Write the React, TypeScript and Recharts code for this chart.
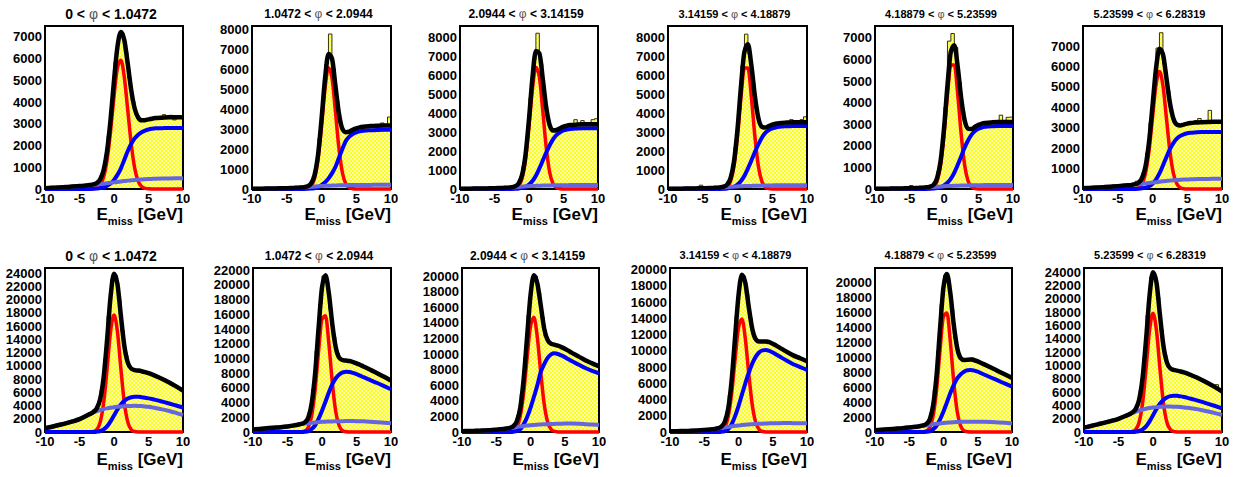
import React from 'react';
import { ComposedChart, Area, Line, XAxis, YAxis, ReferenceArea } from 'recharts';

const FONT = "'Liberation Sans', Arial, Helvetica, sans-serif";

// x grid of the fitted curves (GeV)
const CURVE_X = [-10, -9, -8, -7, -6, -5, -4, -3.5, -3, -2.5, -2, -1.5, -1, -0.5, 0, 0.5, 1, 1.5, 2, 2.5, 3, 3.5, 4, 4.5, 5, 5.5, 6, 7, 8, 9, 10];
// histogram bin edges (GeV), 40 bins
const HIST_EDGES = [-10, -9.5, -9, -8.5, -8, -7.5, -7, -6.5, -6, -5.5, -5, -4.5, -4, -3.5, -3, -2.5, -2, -1.5, -1, -0.5, 0, 0.5, 1, 1.5, 2, 2.5, 3, 3.5, 4, 4.5, 5, 5.5, 6, 6.5, 7, 7.5, 8, 8.5, 9, 9.5, 10];

const X_TICKS = [-10, -5, 0, 5, 10];
const Y_TICKS_7K = [0, 1000, 2000, 3000, 4000, 5000, 6000, 7000];
const Y_TICKS_8K = [0, 1000, 2000, 3000, 4000, 5000, 6000, 7000, 8000];
const Y_TICKS_20K = [0, 2000, 4000, 6000, 8000, 10000, 12000, 14000, 16000, 18000, 20000];
const Y_TICKS_22K = [0, 2000, 4000, 6000, 8000, 10000, 12000, 14000, 16000, 18000, 20000, 22000];
const Y_TICKS_24K = [0, 2000, 4000, 6000, 8000, 10000, 12000, 14000, 16000, 18000, 20000, 22000, 24000];

const PHI_LOW = ['0', '1.0472', '2.0944', '3.14159', '4.18879', '5.23599'];
const PHI_HIGH = ['1.0472', '2.0944', '3.14159', '4.18879', '5.23599', '6.28319'];

// ---------- top row ----------
const T1_SIG = [0, 0, 0, 0, 0, 0, 0, 2, 11, 50, 184, 551, 1340, 2647, 4256, 5570, 5926, 5128, 3609, 2065, 961, 364, 112, 28, 6, 1, 0, 0, 0, 0, 0];
const T1_BG = [0, 0, 0, 0, 0, 0, 0, 5, 10, 20, 40, 80, 150, 250, 420, 650, 950, 1350, 1750, 2080, 2330, 2500, 2610, 2690, 2740, 2770, 2790, 2800, 2810, 2810, 2810];
const T1_BG2 = [40, 55, 70, 90, 110, 135, 160, 175, 190, 205, 225, 245, 265, 285, 305, 325, 345, 365, 385, 400, 415, 428, 440, 450, 458, 465, 472, 482, 488, 492, 495];
const T1_TOT = [40, 55, 70, 90, 110, 135, 160, 182, 211, 275, 449, 876, 1755, 3182, 4981, 6545, 7221, 6843, 5744, 4545, 3706, 3292, 3162, 3168, 3204, 3236, 3262, 3282, 3298, 3302, 3305];
const T1_HIST = [45, 50, 60, 70, 80, 85, 100, 105, 120, 130, 150, 155, 175, 190, 240, 350, 640, 1280, 2450, 4100, 5850, 7050, 7150, 6300, 5100, 4050, 3450, 3200, 3120, 3180, 3220, 3250, 3230, 3300, 3420, 3280, 3390, 3180, 3310, 3330];

const T2_SIG = [0, 0, 0, 0, 0, 0, 0, 0, 0, 4, 30, 144, 530, 1478, 3123, 4998, 6066, 5582, 3894, 2060, 826, 251, 58, 10, 1, 0, 0, 0, 0, 0, 0];
const T2_BG = [0, 0, 0, 0, 0, 0, 0, 0, 0, 5, 10, 20, 40, 80, 200, 330, 520, 780, 1100, 1550, 2000, 2400, 2620, 2750, 2830, 2880, 2910, 2940, 2955, 2960, 2960];
const T2_BG2 = [10, 15, 20, 25, 32, 40, 55, 62, 70, 82, 95, 110, 125, 140, 150, 160, 165, 170, 178, 183, 188, 192, 195, 198, 200, 202, 204, 206, 208, 209, 210];
const T2_TOT = [10, 15, 20, 25, 32, 40, 55, 62, 70, 91, 135, 274, 695, 1698, 3473, 5488, 6751, 6532, 5172, 3793, 3014, 2843, 2873, 2958, 3031, 3082, 3114, 3146, 3163, 3169, 3170];
const T2_HIST = [12, 15, 18, 22, 25, 28, 30, 35, 38, 45, 50, 60, 65, 75, 85, 110, 190, 440, 1150, 2550, 4500, 6250, 7750, 6000, 4400, 3300, 2850, 2780, 2800, 2980, 3050, 3080, 3120, 3150, 3130, 3180, 3150, 3300, 3180, 3600];

const T3_SIG = [0, 0, 0, 0, 0, 0, 0, 0, 0, 5, 32, 152, 560, 1558, 3297, 5274, 6405, 5893, 4109, 2177, 869, 264, 61, 11, 1, 0, 0, 0, 0, 0, 0];
const T3_BG = [0, 0, 0, 0, 0, 0, 0, 0, 0, 5, 15, 30, 60, 120, 230, 420, 700, 1080, 1500, 1920, 2300, 2620, 2850, 2990, 3080, 3130, 3160, 3185, 3195, 3200, 3200];
const T3_BG2 = [10, 15, 20, 25, 32, 40, 55, 62, 70, 82, 95, 110, 125, 140, 150, 160, 165, 170, 178, 183, 188, 192, 195, 198, 200, 202, 204, 206, 208, 209, 210];
const T3_TOT = [10, 15, 20, 25, 32, 40, 55, 62, 70, 92, 142, 292, 745, 1818, 3677, 5854, 7270, 7143, 5787, 4280, 3357, 3076, 3106, 3199, 3281, 3332, 3364, 3391, 3403, 3409, 3410];
const T3_HIST = [12, 15, 18, 22, 25, 28, 30, 35, 38, 45, 50, 60, 65, 75, 90, 120, 200, 480, 1200, 2700, 4800, 6800, 8200, 6600, 4950, 3700, 3180, 3080, 3150, 3230, 3300, 3350, 3380, 3650, 3400, 3600, 3420, 3350, 3650, 3700];

const T4_SIG = [0, 0, 0, 0, 0, 0, 0, 0, 0, 3, 19, 100, 399, 1210, 2776, 4831, 6375, 6375, 4831, 2776, 1210, 399, 100, 19, 3, 0, 0, 0, 0, 0, 0];
const T4_BG = [0, 0, 0, 0, 0, 0, 0, 0, 0, 5, 15, 30, 60, 120, 230, 420, 700, 1080, 1500, 1950, 2350, 2700, 2950, 3100, 3190, 3240, 3270, 3300, 3315, 3320, 3320];
const T4_BG2 = [10, 14, 18, 23, 30, 38, 50, 58, 66, 76, 88, 100, 112, 125, 135, 145, 152, 158, 164, 170, 175, 180, 184, 187, 190, 192, 194, 197, 199, 200, 200];
const T4_TOT = [10, 14, 18, 23, 30, 38, 50, 58, 66, 84, 122, 230, 571, 1455, 3141, 5396, 7227, 7613, 6495, 4896, 3735, 3279, 3234, 3306, 3383, 3432, 3464, 3497, 3514, 3520, 3520];
const T4_HIST = [10, 12, 15, 18, 20, 24, 27, 30, 35, 200, 45, 55, 60, 70, 80, 100, 170, 380, 950, 2200, 4200, 6500, 8150, 7100, 5600, 4250, 3450, 3230, 3250, 3350, 3400, 3450, 3480, 3500, 3480, 3650, 3600, 3520, 3650, 3800];

const T5_SIG = [0, 0, 0, 0, 0, 0, 0, 0, 0, 3, 17, 90, 360, 1089, 2505, 4355, 5748, 5748, 4355, 2505, 1089, 360, 90, 17, 3, 0, 0, 0, 0, 0, 0];
const T5_BG = [0, 0, 0, 0, 0, 0, 0, 0, 0, 5, 10, 20, 40, 80, 160, 290, 480, 760, 1120, 1520, 1920, 2260, 2520, 2690, 2790, 2850, 2880, 2905, 2915, 2920, 2920];
const T5_BG2 = [9, 13, 17, 21, 28, 35, 46, 54, 61, 71, 82, 93, 104, 116, 126, 135, 141, 147, 153, 158, 163, 167, 171, 174, 177, 179, 180, 183, 185, 186, 186];
const T5_TOT = [9, 13, 17, 21, 28, 35, 46, 54, 61, 79, 109, 203, 504, 1285, 2791, 4780, 6369, 6655, 5628, 4183, 3172, 2787, 2781, 2881, 2970, 3029, 3060, 3088, 3100, 3106, 3106];
const T5_HIST = [9, 12, 15, 18, 20, 23, 26, 30, 33, 38, 160, 48, 55, 62, 72, 90, 150, 330, 850, 1950, 3800, 6850, 7200, 6550, 4950, 3600, 2900, 2750, 2830, 2920, 3000, 3040, 3070, 3090, 3080, 3110, 3420, 3100, 3320, 3330];

const T6_SIG = [0, 0, 0, 0, 0, 0, 0, 0, 2, 13, 64, 252, 778, 1867, 3487, 5074, 5750, 5074, 3487, 1867, 778, 252, 64, 13, 2, 0, 0, 0, 0, 0, 0];
const T6_BG = [0, 0, 0, 0, 0, 0, 0, 0, 0, 5, 15, 35, 70, 140, 260, 460, 760, 1150, 1560, 1950, 2250, 2470, 2600, 2680, 2730, 2755, 2770, 2785, 2790, 2790, 2790];
const T6_BG2 = [40, 55, 72, 92, 115, 140, 168, 183, 200, 218, 236, 255, 275, 295, 315, 335, 355, 375, 393, 410, 425, 438, 450, 460, 468, 475, 480, 488, 494, 498, 500];
const T6_TOT = [40, 55, 72, 92, 115, 140, 168, 183, 202, 236, 315, 542, 1123, 2302, 4062, 5869, 6865, 6599, 5440, 4227, 3453, 3160, 3114, 3153, 3200, 3230, 3250, 3273, 3284, 3288, 3290];
const T6_HIST = [45, 55, 65, 75, 85, 95, 105, 115, 130, 140, 155, 165, 175, 190, 215, 380, 420, 820, 1750, 3250, 5000, 6900, 7650, 6100, 4800, 3800, 3250, 3150, 3120, 3180, 3250, 3230, 3350, 3450, 3300, 3280, 3850, 3300, 3290, 3350];

// ---------- bottom row ----------
const B1_SIG = [0, 0, 0, 0, 0, 0, 0, 9, 68, 373, 1494, 4397, 9519, 15135, 17660, 15135, 9519, 4397, 1494, 373, 68, 9, 0, 0, 0, 0, 0, 0, 0, 0, 0];
const B1_BG = [0, 0, 0, 0, 0, 0, 0, 0, 10, 50, 150, 400, 850, 1600, 2500, 3400, 4150, 4700, 5050, 5250, 5330, 5320, 5260, 5180, 5080, 4970, 4850, 4580, 4300, 4000, 3700];
const B1_BG2 = [560, 800, 1050, 1300, 1600, 1950, 2450, 2700, 2950, 3150, 3320, 3460, 3570, 3660, 3740, 3800, 3850, 3890, 3920, 3940, 3950, 3940, 3910, 3860, 3800, 3720, 3630, 3420, 3170, 2880, 2550];
const B1_TOT = [560, 800, 1050, 1300, 1600, 1950, 2450, 2709, 3028, 3573, 4964, 8257, 13939, 20395, 23900, 22335, 17519, 12987, 10464, 9563, 9348, 9269, 9170, 9040, 8880, 8690, 8480, 8000, 7470, 6880, 6250];
const B1_HIST = [620, 720, 900, 1000, 1150, 1250, 1400, 1530, 1700, 1850, 2050, 2300, 2600, 2850, 3250, 4100, 6300, 11000, 17500, 23000, 23600, 20000, 15200, 11600, 10000, 9500, 9300, 9250, 9000, 9000, 8750, 8600, 8400, 8200, 7850, 7650, 7300, 7100, 6700, 6350];

const B2_SIG = [0, 0, 0, 0, 0, 0, 0, 2, 19, 128, 619, 2192, 5706, 10910, 15320, 15800, 11970, 6660, 2720, 816, 179, 30, 4, 0, 0, 0, 0, 0, 0, 0, 0];
const B2_BG = [0, 0, 0, 0, 0, 0, 0, 0, 10, 40, 100, 400, 900, 1800, 2900, 4100, 5400, 6500, 7300, 7800, 8100, 8190, 8150, 8020, 7850, 7660, 7450, 7050, 6650, 6230, 5800];
const B2_BG2 = [350, 420, 500, 580, 650, 750, 900, 990, 1080, 1140, 1200, 1250, 1300, 1340, 1380, 1400, 1420, 1440, 1450, 1465, 1475, 1480, 1480, 1480, 1475, 1465, 1450, 1400, 1340, 1270, 1200];
const B2_TOT = [350, 420, 500, 580, 650, 750, 900, 992, 1109, 1308, 1919, 3842, 7906, 14050, 19600, 21300, 18790, 14600, 11470, 10081, 9754, 9700, 9634, 9500, 9325, 9125, 8900, 8450, 7990, 7500, 7000];
const B2_HIST = [380, 450, 480, 520, 560, 600, 640, 680, 720, 760, 850, 900, 960, 1050, 1200, 1550, 2700, 5800, 11000, 17300, 21200, 20300, 16600, 12900, 10700, 9950, 9700, 9700, 9600, 9350, 9400, 9000, 8750, 8600, 8300, 8150, 7750, 7650, 7300, 6950];

const B3_SIG = [0, 0, 0, 0, 0, 0, 0, 3, 25, 140, 607, 2000, 4990, 9430, 13525, 14700, 12105, 7563, 3578, 1284, 349, 72, 11, 1, 0, 0, 0, 0, 0, 0, 0];
const B3_BG = [0, 0, 0, 0, 0, 0, 0, 0, 10, 40, 120, 350, 1000, 1900, 3100, 4500, 6000, 7700, 8700, 9500, 9950, 10090, 10000, 9820, 9600, 9350, 9100, 8650, 8200, 7850, 7530];
const B3_BG2 = [100, 125, 150, 185, 220, 290, 380, 440, 500, 575, 650, 715, 780, 830, 870, 905, 935, 960, 985, 1005, 1025, 1040, 1055, 1070, 1080, 1080, 1075, 1050, 1005, 955, 900];
const B3_TOT = [100, 125, 150, 185, 220, 290, 380, 443, 535, 755, 1377, 3065, 6770, 12160, 17495, 20105, 19040, 16223, 13263, 11789, 11324, 11202, 11066, 10891, 10680, 10430, 10175, 9700, 9205, 8805, 8430];
const B3_HIST = [110, 130, 140, 160, 170, 190, 200, 230, 250, 280, 310, 360, 410, 480, 620, 1000, 2100, 4800, 9500, 15000, 19300, 20000, 17800, 14700, 12300, 11500, 11300, 11100, 11000, 10900, 10500, 10300, 10100, 9900, 9500, 9400, 9050, 8800, 8600, 8500];

const B4_SIG = [0, 0, 0, 0, 0, 0, 0, 3, 24, 133, 575, 1894, 4726, 8932, 12810, 13923, 11466, 7164, 3389, 1216, 331, 68, 10, 1, 0, 0, 0, 0, 0, 0, 0];
const B4_BG = [0, 0, 0, 0, 0, 0, 0, 0, 10, 40, 120, 350, 950, 1950, 3200, 4600, 6000, 7300, 8400, 9250, 9800, 10050, 10100, 10000, 9800, 9550, 9300, 8800, 8350, 8000, 7650];
const B4_BG2 = [80, 100, 120, 145, 180, 240, 320, 370, 430, 500, 570, 640, 700, 760, 810, 850, 890, 925, 955, 985, 1010, 1030, 1050, 1065, 1075, 1085, 1090, 1095, 1090, 1080, 1070];
const B4_TOT = [80, 100, 120, 145, 180, 240, 320, 373, 464, 673, 1265, 2884, 6376, 11642, 16820, 19373, 18356, 15389, 12744, 11451, 11141, 11148, 11160, 11066, 10875, 10635, 10390, 9895, 9440, 9080, 8720];
const B4_HIST = [90, 100, 115, 125, 140, 150, 170, 190, 210, 230, 270, 300, 350, 410, 540, 880, 1900, 4500, 8900, 14300, 18600, 19200, 17000, 14000, 12000, 11350, 11100, 11150, 11300, 10950, 10700, 10600, 10300, 10150, 9700, 9600, 9350, 9350, 9000, 8700];

const B5_SIG = [0, 0, 0, 0, 0, 0, 0, 2, 19, 129, 623, 2205, 5740, 10975, 15410, 15895, 12040, 6700, 2736, 821, 180, 30, 4, 0, 0, 0, 0, 0, 0, 0, 0];
const B5_BG = [0, 0, 0, 0, 0, 0, 0, 0, 10, 40, 100, 380, 850, 1700, 2750, 3950, 5200, 6300, 7150, 7700, 8050, 8250, 8280, 8200, 8050, 7850, 7650, 7250, 6850, 6450, 6050];
const B5_BG2 = [250, 300, 360, 430, 500, 590, 700, 770, 840, 910, 980, 1040, 1100, 1150, 1200, 1240, 1280, 1310, 1335, 1355, 1370, 1380, 1385, 1385, 1380, 1370, 1355, 1320, 1270, 1220, 1160];
const B5_TOT = [250, 300, 360, 430, 500, 590, 700, 772, 869, 1079, 1703, 3625, 7690, 13825, 19360, 21085, 18520, 14310, 11221, 9876, 9600, 9660, 9669, 9585, 9430, 9220, 9005, 8570, 8120, 7670, 7210];
const B5_HIST = [270, 320, 350, 390, 420, 460, 490, 530, 560, 620, 660, 720, 760, 850, 980, 1350, 2550, 5600, 10800, 17000, 20900, 20000, 16400, 12500, 10500, 9800, 9550, 9700, 9900, 9500, 9300, 9200, 8900, 8750, 8500, 8300, 8000, 7900, 7450, 7250];

const B6_SIG = [0, 0, 0, 0, 0, 0, 0, 9, 69, 376, 1506, 4432, 9594, 15255, 17800, 15255, 9594, 4432, 1506, 376, 69, 9, 0, 0, 0, 0, 0, 0, 0, 0, 0];
const B6_BG = [0, 0, 0, 0, 0, 0, 0, 0, 10, 50, 150, 400, 850, 1600, 2500, 3450, 4250, 4800, 5180, 5380, 5440, 5420, 5340, 5240, 5120, 4990, 4850, 4550, 4230, 3900, 3550];
const B6_BG2 = [650, 900, 1150, 1400, 1680, 1980, 2400, 2620, 2850, 3050, 3220, 3370, 3490, 3590, 3670, 3730, 3770, 3800, 3810, 3810, 3800, 3780, 3740, 3690, 3630, 3560, 3480, 3300, 3080, 2830, 2550];
const B6_TOT = [650, 900, 1150, 1400, 1680, 1980, 2400, 2629, 2929, 3476, 4876, 8202, 13934, 20445, 23970, 22435, 17614, 13032, 10496, 9566, 9309, 9209, 9080, 8930, 8750, 8550, 8330, 7850, 7310, 6730, 6100];
const B6_HIST = [720, 850, 1000, 1100, 1250, 1350, 1500, 1600, 1800, 1900, 2150, 2300, 2500, 2800, 3200, 4000, 6200, 11000, 17500, 23200, 23500, 20200, 15300, 11500, 9900, 9400, 9200, 9200, 9000, 8800, 8700, 8300, 8350, 8000, 7700, 7500, 7200, 7000, 7100, 6300];

// ---------- layout (page pixels) ----------
const ROW_TOP = [0, 238];
const ROW_FRAME = [[26, 189], [268, 432]];
const ROW_TITLE_Y = [14, 255.5];
const ROW_LABEL_BASE = [220, 465];
const TITLE_SIZES = [14, 12, 12, 11, 11, 11];
const TOP_FRAMES_X = [[45, 183], [252, 391], [460, 598], [668, 807], [875, 1013], [1083, 1222]];
const BOT_FRAMES_X = [[45, 183], [253, 391], [462, 599], [670, 807], [875, 1012], [1084, 1222]];

type Panel = {
  row: number; col: number; yMax: number; yTicks: number[];
  sig: number[]; bg: number[]; bg2: number[]; tot: number[]; hist: number[];
};

const PANELS: Panel[] = [
  { row: 0, col: 0, yMax: 7500, yTicks: Y_TICKS_7K, sig: T1_SIG, bg: T1_BG, bg2: T1_BG2, tot: T1_TOT, hist: T1_HIST },
  { row: 0, col: 1, yMax: 8150, yTicks: Y_TICKS_8K, sig: T2_SIG, bg: T2_BG, bg2: T2_BG2, tot: T2_TOT, hist: T2_HIST },
  { row: 0, col: 2, yMax: 8580, yTicks: Y_TICKS_8K, sig: T3_SIG, bg: T3_BG, bg2: T3_BG2, tot: T3_TOT, hist: T3_HIST },
  { row: 0, col: 3, yMax: 8580, yTicks: Y_TICKS_8K, sig: T4_SIG, bg: T4_BG, bg2: T4_BG2, tot: T4_TOT, hist: T4_HIST },
  { row: 0, col: 4, yMax: 7550, yTicks: Y_TICKS_7K, sig: T5_SIG, bg: T5_BG, bg2: T5_BG2, tot: T5_TOT, hist: T5_HIST },
  { row: 0, col: 5, yMax: 7980, yTicks: Y_TICKS_7K, sig: T6_SIG, bg: T6_BG, bg2: T6_BG2, tot: T6_TOT, hist: T6_HIST },
  { row: 1, col: 0, yMax: 24750, yTicks: Y_TICKS_24K, sig: B1_SIG, bg: B1_BG, bg2: B1_BG2, tot: B1_TOT, hist: B1_HIST },
  { row: 1, col: 1, yMax: 22270, yTicks: Y_TICKS_22K, sig: B2_SIG, bg: B2_BG, bg2: B2_BG2, tot: B2_TOT, hist: B2_HIST },
  { row: 1, col: 2, yMax: 21030, yTicks: Y_TICKS_20K, sig: B3_SIG, bg: B3_BG, bg2: B3_BG2, tot: B3_TOT, hist: B3_HIST },
  { row: 1, col: 3, yMax: 20200, yTicks: Y_TICKS_20K, sig: B4_SIG, bg: B4_BG, bg2: B4_BG2, tot: B4_TOT, hist: B4_HIST },
  { row: 1, col: 4, yMax: 21900, yTicks: Y_TICKS_20K, sig: B5_SIG, bg: B5_BG, bg2: B5_BG2, tot: B5_TOT, hist: B5_HIST },
  { row: 1, col: 5, yMax: 24600, yTicks: Y_TICKS_24K, sig: B6_SIG, bg: B6_BG, bg2: B6_BG2, tot: B6_TOT, hist: B6_HIST },
];

function buildRows(p: Panel) {
  return HIST_EDGES.map((x, i) => {
    const row: any = { x, h: p.hist[Math.min(i, p.hist.length - 1)] };
    const j = CURVE_X.indexOf(x);
    if (j >= 0) {
      row.sig = p.sig[j];
      row.bg = p.bg[j];
      row.bg2 = p.bg2[j];
      row.tot = p.tot[j];
    }
    return row;
  });
}

const TICK_STYLE = { fontSize: 13, fontWeight: 700, fill: '#000', fontFamily: FONT };
const YAXIS_W = 50;
const RIGHT_PAD = 10;
const XAXIS_H = 30;

function PanelChart({ p, idx }: { p: Panel; idx: number }) {
  const rowTop = ROW_TOP[p.row];
  const [ft, fb] = ROW_FRAME[p.row];
  const [fl, fr] = (p.row === 0 ? TOP_FRAMES_X : BOT_FRAMES_X)[p.col];
  const w = fr - fl + YAXIS_W + RIGHT_PAD;
  const h = 238;
  const rows = buildRows(p);
  const pid = `hatch-${idx}`;
  const ts = TITLE_SIZES[p.col];
  const cx = (fl + fr) / 2 - 3;
  const labelSize = 17;
  return (
    <>
      <div style={{ position: 'absolute', left: fl - YAXIS_W, top: rowTop, width: w, height: h }}>
        <ComposedChart
          width={w}
          height={h}
          data={rows}
          margin={{ top: ft - rowTop, right: RIGHT_PAD, left: 0, bottom: rowTop + h - fb - XAXIS_H }}
        >
          <defs>
            <pattern id={pid} patternUnits="userSpaceOnUse" x="0" y="0" width="4" height="4">
              <rect x="0" y="0" width="4" height="4" fill="#f6f6b8" />
              <rect x="0" y="0" width="2" height="2" fill="#ffff10" />
              <rect x="2" y="2" width="2" height="2" fill="#ffff10" />
            </pattern>
          </defs>
          <XAxis
            dataKey="x"
            type="number"
            domain={[-10, 10]}
            ticks={X_TICKS}
            interval={0}
            tickLine={false}
            axisLine={false}
            tickSize={0}
            tickMargin={5}
            height={XAXIS_H}
            tick={TICK_STYLE}
          />
          <YAxis
            type="number"
            domain={[0, p.yMax]}
            ticks={p.yTicks}
            interval={0}
            width={YAXIS_W}
            tickLine={false}
            axisLine={false}
            tickSize={0}
            tickMargin={3}
            tick={TICK_STYLE}
          />
          <Area
            type="stepAfter"
            dataKey="h"
            stroke="#333300"
            strokeWidth={1}
            fill={`url(#${pid})`}
            fillOpacity={1}
            dot={false}
            activeDot={false}
            isAnimationActive={false}
          />
          <Line type="monotone" dataKey="sig" stroke="#ff0000" strokeWidth={3.5} dot={false} activeDot={false} connectNulls isAnimationActive={false} />
          <Line type="monotone" dataKey="bg" stroke="#0000ff" strokeWidth={4} dot={false} activeDot={false} connectNulls isAnimationActive={false} />
          <Line type="monotone" dataKey="bg2" stroke="#6666dd" strokeWidth={4} dot={false} activeDot={false} connectNulls isAnimationActive={false} />
          <Line type="monotone" dataKey="tot" stroke="#000000" strokeWidth={4.5} dot={false} activeDot={false} connectNulls isAnimationActive={false} />
          <ReferenceArea x1={-10} x2={10} y1={0} y2={p.yMax} fill="none" fillOpacity={0} stroke="#000" strokeWidth={2} />
        </ComposedChart>
      </div>
      <div
        style={{
          position: 'absolute',
          left: cx - 110,
          width: 220,
          top: ROW_TITLE_Y[p.row] - 0.49 * ts,
          fontSize: ts,
          lineHeight: `${ts}px`,
          fontWeight: 700,
          textAlign: 'center',
          whiteSpace: 'nowrap',
          fontFamily: FONT,
          color: '#000',
        }}
      >
        {PHI_LOW[p.col]} &lt; <span style={{ fontWeight: 400, color: '#555' }}>φ</span> &lt; {PHI_HIGH[p.col]}
      </div>
      <div
        style={{
          position: 'absolute',
          left: fr - 160,
          width: 160,
          top: ROW_LABEL_BASE[p.row] - 14.4,
          fontSize: labelSize,
          lineHeight: `${labelSize}px`,
          fontWeight: 700,
          textAlign: 'right',
          whiteSpace: 'nowrap',
          fontFamily: FONT,
          color: '#000',
        }}
      >
        E<span style={{ fontSize: 11, position: 'relative', top: 5 }}>miss</span> [GeV]
      </div>
    </>
  );
}

export default function App() {
  return (
    <div style={{ position: 'absolute', left: 0, top: 0, width: 1237, height: 477, background: '#fff', overflow: 'hidden' }}>
      {PANELS.map((p, i) => (
        <PanelChart key={i} p={p} idx={i} />
      ))}
    </div>
  );
}
